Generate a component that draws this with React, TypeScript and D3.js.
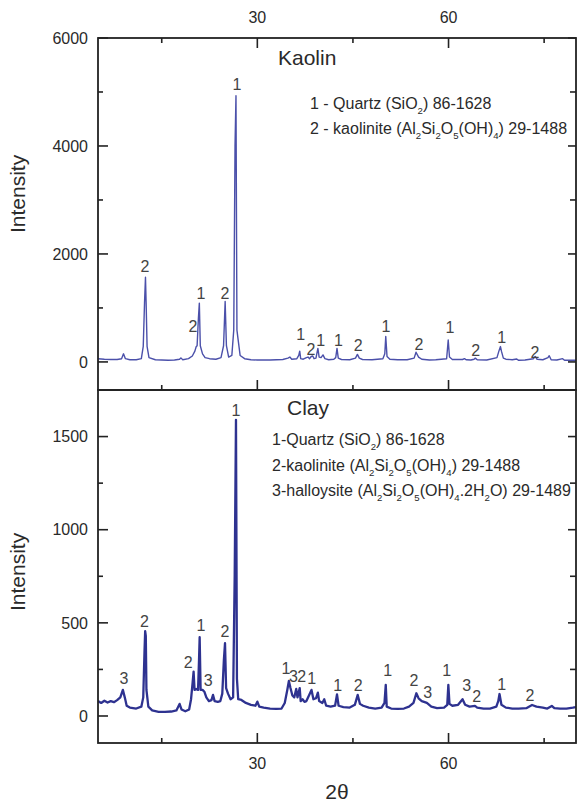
import React from "react";
import * as d3 from "d3";

// ---------- data ----------
const kaolinTheta = [5, 6, 7, 8, 8.7, 9.0, 9.3, 10, 11, 11.8, 12.1, 12.3, 12.45, 12.55, 12.7, 13, 14, 15, 16, 17, 17.8, 18.0, 18.3, 19.2, 19.8, 20.2, 20.4, 20.55, 20.75, 20.9, 21.05, 21.4, 21.8, 22.5, 23.5, 24.3, 24.7, 24.95, 25.15, 25.5, 26.0, 26.3, 26.5, 26.65, 26.8, 27.0, 27.3, 28, 29, 30, 31, 32, 33, 34, 34.8, 35.1, 35.4, 36.2, 36.5, 36.65, 36.8, 37.2, 37.7, 37.95, 38.2, 38.45, 38.7, 38.9, 39.2, 39.5, 39.7, 40.0, 40.3, 40.6, 41.2, 42.0, 42.3, 42.5, 42.7, 43.2, 44.5, 45.4, 45.7, 46.0, 46.5, 48, 49.7, 50.0, 50.15, 50.35, 50.8, 52, 53.5, 54.6, 54.9, 55.3, 55.8, 57, 58, 59.7, 59.95, 60.15, 60.6, 62.2, 62.5, 62.8, 63.5, 64.0, 64.2, 64.5, 66, 67.6, 67.9, 68.15, 68.3, 68.6, 69, 70.0, 70.7, 71, 72, 73.3, 73.6, 73.9, 74.8, 75.6, 75.8, 76.1, 77, 77.9, 78.2, 79, 80];
const kaolinCounts = [60, 50, 45, 45, 60, 150, 60, 40, 40, 60, 290, 1090, 1570, 1100, 290, 80, 40, 35, 30, 35, 50, 75, 40, 60, 110, 200, 280, 300, 800, 1090, 300, 150, 80, 60, 50, 80, 300, 1120, 300, 90, 120, 590, 4000, 4930, 590, 400, 120, 60, 40, 35, 35, 35, 40, 45, 70, 90, 50, 60, 120, 200, 60, 50, 80, 90, 60, 100, 110, 60, 70, 250, 90, 80, 130, 60, 40, 50, 80, 250, 70, 45, 40, 70, 140, 70, 45, 40, 60, 150, 470, 100, 50, 40, 40, 70, 180, 90, 50, 35, 40, 60, 405, 90, 45, 45, 60, 40, 35, 50, 70, 40, 35, 80, 200, 285, 200, 70, 50, 40, 55, 30, 35, 60, 100, 50, 40, 80, 115, 40, 35, 60, 30, 30, 30];

const clayTheta = [5, 5.5, 6, 6.5, 7, 7.5, 8, 8.5, 8.9, 9.2, 9.5, 10, 11, 11.8, 12.1, 12.3, 12.4, 12.5, 12.6, 12.9, 13.5, 14.5, 15.5, 16.5, 17.3, 17.8, 18.1, 18.7, 19.3, 19.6, 19.85, 20.0, 20.15, 20.4, 20.7, 20.85, 20.95, 21.1, 21.4, 21.7, 22.0, 22.4, 22.8, 23.05, 23.3, 23.8, 24.2, 24.5, 24.75, 24.93, 25.1, 25.4, 25.8, 26.2, 26.45, 26.65, 26.8, 27.0, 27.5, 28.2, 29.0, 29.7, 30.0, 30.3, 31, 32, 33, 33.8, 34.3, 34.7, 34.95, 35.2, 35.5, 35.8, 36.1, 36.3, 36.65, 36.8, 37.1, 37.4, 37.7, 38.1, 38.5, 38.8, 39.2, 39.5, 39.7, 40.2, 40.5, 40.8, 41.5, 42.2, 42.5, 42.75, 43.5, 44.5, 45.3, 45.75, 46.1, 46.6, 47.5, 48.5, 49.5, 49.95, 50.15, 50.3, 51, 52, 53, 53.8, 54.5, 54.95, 55.3, 55.8, 56.6, 57.3, 58.2, 59.3, 59.8, 59.97, 60.15, 60.6, 61.5, 62.2, 62.6, 63.3, 64.15, 64.5, 65.5, 66.5, 67.5, 67.8, 68.0, 68.3, 69, 70, 71, 72.2, 73.1, 73.8, 74.8, 75.5, 76.2, 76.6, 77.5, 78.5, 79.5, 80];
const clayCounts = [80, 70, 82, 72, 80, 74, 85, 100, 140, 100, 55, 45, 40, 50, 100, 350, 455, 430, 140, 50, 30, 22, 22, 24, 30, 65, 35, 25, 35, 90, 180, 238, 140, 145, 140, 300, 423, 140, 140, 130, 100, 80, 85, 113, 80, 76, 80, 120, 300, 391, 150, 120, 90, 100, 758, 1590, 200, 90, 86, 70, 60, 55, 77, 50, 45, 40, 38, 40, 70, 140, 188, 150, 110, 100, 145, 100, 150, 80, 90, 76, 80, 110, 140, 90, 95, 125, 80, 70, 90, 55, 50, 55, 116, 55, 48, 45, 60, 113, 65, 55, 45, 40, 45, 70, 167, 50, 40, 38, 40, 50, 70, 122, 95, 80, 70, 50, 42, 45, 60, 167, 65, 55, 60, 90, 60, 50, 54, 45, 40, 40, 50, 80, 118, 60, 45, 40, 40, 42, 59, 50, 45, 40, 54, 42, 40, 40, 45, 48];

const kaolinLabelTheta = [12.37, 21.16, 24.93, 19.91, 26.81, 36.81, 38.42, 39.94, 42.71, 45.84, 50.19, 55.37, 60.23, 64.27, 68.35, 73.57];
const kaolinLabelCounts = [1778, 1278, 1278, 667, 5148, 519, 241, 407, 407, 302, 654, 333, 635, 222, 450, 172];
const kaolinLabelText = ["2", "1", "2", "2", "1", "1", "2", "1", "1", "2", "1", "2", "1", "2", "1", "2"];

const clayLabelTheta = [9.08, 12.27, 19.17, 21.16, 22.31, 24.93, 26.65, 34.5, 35.65, 36.96, 38.53, 42.61, 45.84, 50.46, 54.58, 56.73, 59.71, 62.85, 64.42, 68.35, 72.79];
const clayLabelCounts = [203, 507, 287, 489, 194, 453, 1641, 256, 211, 215, 203, 167, 167, 244, 194, 125, 244, 167, 104, 172, 109];
const clayLabelText = ["3", "2", "2", "1", "3", "2", "1", "1", "3", "2", "1", "1", "2", "1", "2", "3", "1", "3", "2", "1", "2"];

const xMajorTicks = [30, 60];
const xMinorTicks = [15, 45, 75];
const kaolinMajorTicks = [0, 2000, 4000, 6000];
const kaolinMinorTicks = [1000, 3000, 5000];
const clayMajorTicks = [0, 500, 1000, 1500];
const clayMinorTicks = [250, 750, 1250];

// ---------- layout ----------
const W = 578;
const H = 806;
const L = 98;
const R = 576;
const FONT = "'Liberation Sans', Arial, sans-serif";

const x = d3.scaleLinear().domain([5, 80]).range([L, R]);
const yTop = d3.scaleLinear().domain([-520, 6000]).range([390, 38]);
const yBot = d3.scaleLinear().domain([-145, 1750]).range([743, 390]);

type Seg = { t: string; sub?: boolean };

function Formula({ xPos, yPos, segs, size }: { xPos: number; yPos: number; segs: Seg[]; size: number }) {
  const out: any[] = [];
  let shifted = false;
  segs.forEach((s, i) => {
    let dy = 0;
    if (s.sub && !shifted) { dy = 5; shifted = true; }
    else if (!s.sub && shifted) { dy = -5; shifted = false; }
    out.push(
      <tspan key={i} dy={dy} fontSize={s.sub ? size * 0.6 : size}>{s.t}</tspan>
    );
  });
  return (
    <text x={xPos} y={yPos} fontFamily={FONT} fontSize={size} fill="#2a2a2a">{out}</text>
  );
}

function Panel({ y, theta, counts, major, minor, color, sw, labTheta, labCounts, labText, clipId }: any) {
  const [y0, y1] = [y.range()[1], y.range()[0]];
  const pts = theta.map((t: number, i: number) => [t, counts[i]] as [number, number]);
  const line = d3.line<[number, number]>().x((d) => x(d[0])).y((d) => y(d[1]));
  return (
    <g>
      <clipPath id={clipId}>
        <rect x={L} y={y0} width={R - L} height={y1 - y0} />
      </clipPath>
      <path d={line(pts) || ""} fill="none" stroke={color} strokeWidth={sw} strokeLinejoin="round" clipPath={`url(#${clipId})`} />
      {labTheta.map((t: number, i: number) => (
        <text key={i} x={x(t)} y={y(labCounts[i])} dy="0.36em" textAnchor="middle" fontFamily={FONT} fontSize={16} fill="#444">{labText[i]}</text>
      ))}
      {major.map((v: number) => (
        <g key={"M" + v}>
          <line x1={L} x2={L + 10} y1={y(v)} y2={y(v)} stroke="#222" strokeWidth={1.6} />
          <line x1={R} x2={R - 8} y1={y(v)} y2={y(v)} stroke="#222" strokeWidth={1.6} />
          <text x={88} y={y(v)} dy="0.36em" textAnchor="end" fontFamily={FONT} fontSize={16} fill="#2a2a2a">{v}</text>
        </g>
      ))}
      {minor.map((v: number) => (
        <g key={"m" + v}>
          <line x1={L} x2={L + 5} y1={y(v)} y2={y(v)} stroke="#222" strokeWidth={1.6} />
          <line x1={R} x2={R - 6} y1={y(v)} y2={y(v)} stroke="#222" strokeWidth={1.6} />
        </g>
      ))}
      <rect x={L} y={y0} width={R - L} height={y1 - y0} fill="none" stroke="#222" strokeWidth={1.8} />
    </g>
  );
}

export default function App() {
  const topY = yTop.range()[1];
  const midY = yTop.range()[0];
  const botY = yBot.range()[0];
  return (
    <svg width={W} height={H} style={{ position: "absolute", left: 0, top: 0, background: "#fff" }}>
      <rect x={0} y={0} width={W} height={H} fill="#fff" />
      <Panel y={yTop} theta={kaolinTheta} counts={kaolinCounts} major={kaolinMajorTicks} minor={kaolinMinorTicks}
        color="#4b50aa" sw={1.4} labTheta={kaolinLabelTheta} labCounts={kaolinLabelCounts} labText={kaolinLabelText} clipId="cTop" />
      <Panel y={yBot} theta={clayTheta} counts={clayCounts} major={clayMajorTicks} minor={clayMinorTicks}
        color="#2e3290" sw={2.3} labTheta={clayLabelTheta} labCounts={clayLabelCounts} labText={clayLabelText} clipId="cBot" />

      {/* x ticks */}
      {xMajorTicks.map((v) => (
        <g key={"xM" + v}>
          <line x1={x(v)} x2={x(v)} y1={topY} y2={topY + 10} stroke="#222" strokeWidth={1.6} />
          <line x1={x(v)} x2={x(v)} y1={midY} y2={midY - 10} stroke="#222" strokeWidth={1.6} />
          <line x1={x(v)} x2={x(v)} y1={botY} y2={botY - 10} stroke="#222" strokeWidth={1.6} />
          <text x={x(v)} y={23} textAnchor="middle" fontFamily={FONT} fontSize={16} fill="#2a2a2a">{v}</text>
          <text x={x(v)} y={769} textAnchor="middle" fontFamily={FONT} fontSize={16} fill="#2a2a2a">{v}</text>
        </g>
      ))}
      {xMinorTicks.map((v) => (
        <g key={"xm" + v}>
          <line x1={x(v)} x2={x(v)} y1={topY} y2={topY + 5} stroke="#222" strokeWidth={1.6} />
          <line x1={x(v)} x2={x(v)} y1={midY} y2={midY - 5} stroke="#222" strokeWidth={1.6} />
          <line x1={x(v)} x2={x(v)} y1={botY} y2={botY - 5} stroke="#222" strokeWidth={1.6} />
        </g>
      ))}

      {/* axis titles */}
      <text transform="translate(25,233) rotate(-90)" fontFamily={FONT} fontSize={21} fill="#2a2a2a">Intensity</text>
      <text transform="translate(25,611) rotate(-90)" fontFamily={FONT} fontSize={21} fill="#2a2a2a">Intensity</text>
      <text x={337} y={799} textAnchor="middle" fontFamily={FONT} fontSize={21} fill="#2a2a2a">2θ</text>

      {/* panel titles and legends */}
      <text x={278} y={65} fontFamily={FONT} fontSize={21} fill="#2a2a2a">Kaolin</text>
      <Formula xPos={310} yPos={109} size={16} segs={[{ t: "1 - Quartz (SiO" }, { t: "2", sub: true }, { t: ") 86-1628" }]} />
      <Formula xPos={310} yPos={134} size={16} segs={[{ t: "2 - kaolinite (Al" }, { t: "2", sub: true }, { t: "Si" }, { t: "2", sub: true }, { t: "O" }, { t: "5", sub: true }, { t: "(OH)" }, { t: "4", sub: true }, { t: ") 29-1488" }]} />

      <text x={287} y={415} fontFamily={FONT} fontSize={21} fill="#2a2a2a">Clay</text>
      <Formula xPos={272} yPos={445} size={16} segs={[{ t: "1-Quartz (SiO" }, { t: "2", sub: true }, { t: ") 86-1628" }]} />
      <Formula xPos={272} yPos={471} size={16} segs={[{ t: "2-kaolinite (Al" }, { t: "2", sub: true }, { t: "Si" }, { t: "2", sub: true }, { t: "O" }, { t: "5", sub: true }, { t: "(OH)" }, { t: "4", sub: true }, { t: ") 29-1488" }]} />
      <Formula xPos={272} yPos={496} size={16} segs={[{ t: "3-halloysite (Al" }, { t: "2", sub: true }, { t: "Si" }, { t: "2", sub: true }, { t: "O" }, { t: "5", sub: true }, { t: "(OH)" }, { t: "4", sub: true }, { t: ".2H" }, { t: "2", sub: true }, { t: "O) 29-1489" }]} />
    </svg>
  );
}
